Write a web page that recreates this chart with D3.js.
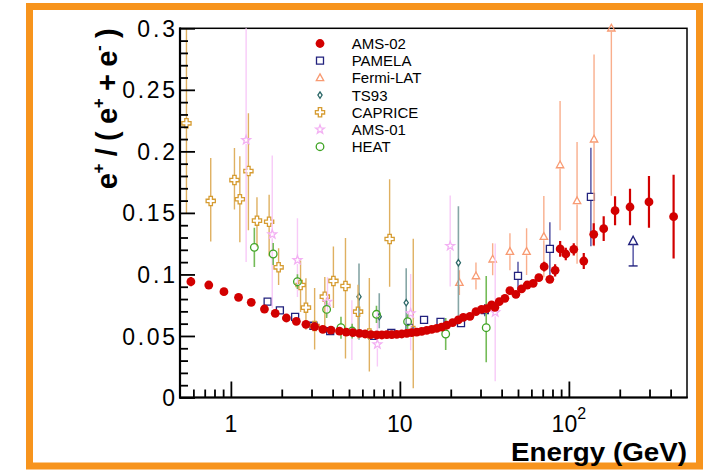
<!DOCTYPE html>
<html><head><meta charset="utf-8">
<script src="https://cdn.jsdelivr.net/npm/d3@7"></script>
<style>html,body{margin:0;padding:0;background:#fff;} svg{display:block;font-family:"Liberation Sans",Arial,Helvetica,sans-serif;}</style>
</head><body><svg id="c" width="705" height="470"></svg>
<script>
// ---------------- data ----------------
const xTickMajor = [1, 10, 100];
const xTickMinor = [0.6,0.7,0.8,0.9,2,3,4,5,6,7,8,9,20,30,40,50,60,70,80,90,200,300,400];
const yTickMajor = [0, 0.05, 0.1, 0.15, 0.2, 0.25, 0.3];
const yTickLabels = ["0", "0.05", "0.1", "0.15", "0.2", "0.25", "0.3"];

const ams02E = [0.58,0.74,0.91,1.11,1.32,1.58,1.83,2.13,2.44,2.78,3.13,3.50,3.91,4.39,4.81,5.27,5.77,6.23,6.73,7.30,7.82,8.36,8.95,9.58,10.26,10.98,11.75,12.58,13.46,14.41,15.43,16.51,17.67,18.92,20.52,22.17,23.73,25.98,28.19,30.44,32.60,34.88,36.50,38.71,41.82,44.78,48.58,52.47,56.67,61.48,66.41,71.41,77.13,82.92,88.80,95.87,106.9,122.5,140.3,160.7,187.6,230.0,297.8,416.6];
const ams02V = [0.0941,0.0914,0.0860,0.0814,0.0773,0.0719,0.0684,0.0646,0.0619,0.0595,0.0576,0.0554,0.0548,0.0540,0.0532,0.0527,0.0521,0.0516,0.0511,0.0508,0.0508,0.0511,0.0511,0.0513,0.0516,0.0521,0.0527,0.0532,0.0538,0.0545,0.0553,0.0561,0.0572,0.0587,0.0608,0.0630,0.0651,0.0660,0.0697,0.0716,0.0722,0.0752,0.0733,0.0779,0.0806,0.0868,0.0838,0.0882,0.0914,0.0928,0.0974,0.1063,0.0960,0.1033,0.1207,0.1166,0.1204,0.1109,0.1326,0.1372,0.1518,0.1548,0.1589,0.1469];
const ams02Err = [0.0038,0.002,0.0015,0.001,0.001,0.001,0.001,0.001,0.001,0.001,0.001,0.001,0.001,0.001,0.001,0.001,0.001,0.001,0.001,0.001,0.001,0.001,0.001,0.001,0.001,0.001,0.001,0.001,0.001,0.001,0.001,0.001,0.001,0.001,0.001,0.001,0.0015,0.0015,0.0015,0.0015,0.002,0.002,0.002,0.002,0.002,0.002,0.002,0.002,0.002,0.0025,0.003,0.004,0.003,0.005,0.0064,0.005,0.005,0.0065,0.009,0.010,0.0118,0.0148,0.021,0.034];

const pamelaE = [1.65,1.95,2.40,3.08,3.87,6.9,8.9,11.4,13.9,17.4,23.0,31.8,50.0,77.2,135.0];
const pamelaV = [0.0779,0.0708,0.0655,0.0583,0.0540,0.0500,0.0524,0.0565,0.0630,0.0615,0.0605,0.0710,0.0988,0.1208,0.1630];
const pamelaErr = [0.002,0.002,0.002,0.002,0.002,0.002,0.002,0.002,0.003,0.003,0.003,0.005,0.0115,0.0217,0.040];
const pamelaLimitE = [240];
const pamelaLimitV = [0.1268];
const pamelaLimitLow = [0.1069];

const fermiE = [22.5,28.2,35.4,44.8,56.2,71.1,88.7,111.8,140.9,178.4];
const fermiV = [0.0933,0.0987,0.1123,0.1185,0.1185,0.1307,0.1889,0.1597,0.2098,0.3000];
const fermiLo = [0.010,0.011,0.013,0.015,0.019,0.033,0.053,0.051,0.087,0.136];
const fermiHi = [0.010,0.011,0.013,0.015,0.019,0.033,0.052,0.048,0.069,0.05];

const ts93E = [5.73,7.55,10.9,22.2];
const ts93V = [0.0819,0.0657,0.0770,0.1095];
const ts93Lo = [0.035,0.0095,0.025,0.044];
const ts93Hi = [0.027,0.019,0.028,0.046];

const capriceE = [0.546,0.760,1.050,1.130,1.270,1.427,1.684,1.916,2.584,2.781,3.13,3.596,4.043,4.766,5.656,6.597,8.696,12.0];
const capriceV = [0.2228,0.1597,0.1767,0.1611,0.1840,0.1437,0.1428,0.1058,0.0914,0.0730,0.058,0.0819,0.0947,0.0906,0.0697,0.0521,0.1288,0.054];
const capriceLo = [0.073,0.033,0.024,0.035,0.048,0.021,0.028,0.0144,0.022,0.018,0.019,0.028,0.022,0.059,0.022,0.031,0.0388,0.0465];
const capriceHi = [0.10,0.035,0.026,0.035,0.047,0.019,0.022,0.0154,0.020,0.024,0.031,0.016,0.028,0.039,0.022,0.045,0.0485,0.075];

const ams01E = [1.231,1.757,2.477,3.73,5.2,7.36,11.58,19.85,36.65];
const ams01V = [0.2092,0.1326,0.1117,0.0778,0.054,0.0432,0.0684,0.1231,0.0692];
const ams01Lo = [0.099,0.06,0.030,0.012,0.0235,0.018,0.03,0.033,0.056];
const ams01Hi = [0.10,0.064,0.034,0.020,0.025,0.0265,0.032,0.041,0.056];

const heatE = [1.377,1.780,2.477,3.686,4.482,5.22,7.27,11.11,18.67,32.43];
const heatV = [0.1220,0.1166,0.0941,0.0716,0.0567,0.0540,0.0676,0.0616,0.0516,0.0567];
const heatLo = [0.016,0.009,0.006,0.007,0.009,0.006,0.007,0.006,0.013,0.028];
const heatHi = [0.016,0.009,0.006,0.007,0.009,0.006,0.007,0.006,0.013,0.042];

const legendNames = ["AMS-02","PAMELA","Fermi-LAT","TS93","CAPRICE","AMS-01","HEAT"];

// ---------------- layout ----------------
const svg = d3.select("#c");
const L = 180, R = 687, T = 28.3, B = 397.5;
const x = d3.scaleLog().domain([0.5, 500]).range([L, R]);
const y = d3.scaleLinear().domain([0, 0.3]).range([B, T]);

// orange border
svg.append("rect").attr("x",29.5).attr("y",6.5).attr("width",670).attr("height",459.5)
  .attr("fill","#fff").attr("stroke","#f7941d").attr("stroke-width",7);

svg.append("defs").append("clipPath").attr("id","pc").append("rect")
  .attr("x",L).attr("y",T).attr("width",R-L).attr("height",B-T);

// frame
svg.append("rect").attr("x",L).attr("y",T).attr("width",R-L).attr("height",B-T)
  .attr("fill","none").attr("stroke","#000").attr("stroke-width",1.5);

const mk = {
  dot:{half:0}, square:{half:3.5}, triangle:{half:3.5}, diamond:{half:3}, cross:{half:4.5}, star:{half:4}, circle:{half:3.8}
};
function drawMarker(g, type, cx, cy, color) {
  if (type === "dot") {
    g.append("circle").attr("cx",cx).attr("cy",cy).attr("r",4.4).attr("fill",color);
    return;
  }
  let d = "";
  if (type === "square") d = `M${cx-3.5},${cy-3.5}h7v7h-7Z`;
  else if (type === "triangle") d = `M${cx},${cy-4}L${cx+3.7},${cy+2.7}L${cx-3.7},${cy+2.7}Z`;
  else if (type === "diamond") d = `M${cx},${cy-3.2}L${cx+2.1},${cy}L${cx},${cy+3.2}L${cx-2.1},${cy}Z`;
  else if (type === "cross") { const a=1.7,b=4.6; d = `M${cx-a},${cy-b}H${cx+a}V${cy-a}H${cx+b}V${cy+a}H${cx+a}V${cy+b}H${cx-a}V${cy+a}H${cx-b}V${cy-a}H${cx-a}Z`; }
  else if (type === "star") {
    const pts = [];
    for (let i=0;i<10;i++){ const r = i%2===0?4.6:1.9; const ang = -Math.PI/2 + i*Math.PI/5; pts.push([cx+r*Math.cos(ang), cy+r*Math.sin(ang)]); }
    d = "M" + pts.map(p=>p[0].toFixed(2)+","+p[1].toFixed(2)).join("L") + "Z";
  }
  else if (type === "circle") {
    g.append("circle").attr("cx",cx).attr("cy",cy).attr("r",3.8).attr("fill","none").attr("stroke",color).attr("stroke-width",1.3);
    return;
  }
  g.append("path").attr("d",d).attr("fill","none").attr("stroke",color).attr("stroke-width",1.3).attr("stroke-linejoin","miter");
}

const series = [
  {name:"PAMELA", E:pamelaE, v:pamelaV, lo:pamelaErr, hi:pamelaErr, type:"square", color:"#22227e", bar:"#4c4ca0", bw:1.4},
  {name:"Fermi-LAT", E:fermiE, v:fermiV, lo:fermiLo, hi:fermiHi, type:"triangle", color:"#f89a72", bar:"#f9ae8c", bw:1.4},
  {name:"TS93", E:ts93E, v:ts93V, lo:ts93Lo, hi:ts93Hi, type:"diamond", color:"#2c6868", bar:"#86a6a6", bw:1.6},
  {name:"CAPRICE", E:capriceE, v:capriceV, lo:capriceLo, hi:capriceHi, type:"cross", color:"#d69c32", bar:"#dfb061", bw:1.4},
  {name:"AMS-01", E:ams01E, v:ams01V, lo:ams01Lo, hi:ams01Hi, type:"star", color:"#f3b0f3", bar:"#f8caf8", bw:1.4},
  {name:"HEAT", E:heatE, v:heatV, lo:heatLo, hi:heatHi, type:"circle", color:"#3fa424", bar:"#74bb58", bw:1.6},
  {name:"AMS-02", E:ams02E, v:ams02V, lo:ams02Err, hi:ams02Err, type:"dot", color:"#d20000", bar:"#d20000", bw:2.2}
];

const dataG = svg.append("g");
series.forEach(s => {
  const bars = dataG.append("g").attr("clip-path","url(#pc)");
  const marks = dataG.append("g");
  const h = mk[s.type].half;
  s.E.forEach((e,i) => {
    const cx = x(e), cy = y(s.v[i]);
    const yTop = y(s.v[i] + s.hi[i]), yBot = y(s.v[i] - s.lo[i]);
    if (cy - h > yTop) bars.append("line").attr("x1",cx).attr("x2",cx).attr("y1",yTop).attr("y2",cy-h).attr("stroke",s.bar).attr("stroke-width",s.bw);
    if (cy + h < yBot) bars.append("line").attr("x1",cx).attr("x2",cx).attr("y1",cy+h).attr("y2",yBot).attr("stroke",s.bar).attr("stroke-width",s.bw);
  });
  s.E.forEach((e,i) => drawMarker(marks, s.type, x(e), y(s.v[i]), s.color));
  if (s.name === "PAMELA") {
    pamelaLimitE.forEach((e,i) => {
      const cx = x(e), cy = y(pamelaLimitV[i]), yb = y(pamelaLimitLow[i]);
      marks.append("path").attr("d",`M${cx},${cy-5.2}L${cx+4.4},${cy+3}L${cx-4.4},${cy+3}Z`)
        .attr("fill","none").attr("stroke",s.color).attr("stroke-width",1.4);
      marks.append("line").attr("x1",cx).attr("x2",cx).attr("y1",cy+3).attr("y2",yb).attr("stroke",s.bar).attr("stroke-width",1.4);
      marks.append("line").attr("x1",cx-4.5).attr("x2",cx+4.5).attr("y1",yb).attr("y2",yb).attr("stroke",s.color).attr("stroke-width",1.4);
    });
  }
});

// ---------------- axes ----------------
const yAxisG = svg.append("g").attr("transform",`translate(${L},0)`)
  .call(d3.axisLeft(y).tickValues(yTickMajor).tickSize(-15).tickPadding(5)
    .tickFormat((d,i) => yTickLabels[i]));
const yMinor = d3.range(0, 0.3001, 0.01).filter(v => Math.abs(v/0.05 - Math.round(v/0.05)) > 1e-6);
svg.append("g").attr("transform",`translate(${L},0)`)
  .call(d3.axisLeft(y).tickValues(yMinor).tickSize(-8).tickFormat(""));
const xAxisG = svg.append("g").attr("transform",`translate(0,${B})`)
  .call(d3.axisBottom(x).tickValues(xTickMajor).tickSize(-16).tickFormat(""));
svg.append("g").attr("transform",`translate(0,${B})`)
  .call(d3.axisBottom(x).tickValues(xTickMinor).tickSize(-8).tickFormat(""));

svg.selectAll(".domain").remove();
svg.selectAll(".tick line").attr("stroke","#000").attr("stroke-width",1.8);

yAxisG.selectAll("text").attr("font-size",23).attr("fill","#000").attr("font-family","Liberation Sans, Arial, sans-serif")
  .attr("dy","0.35em")
  .each(function(){ const t = this.textContent; if (t.indexOf(".")>=0) { const w = this.getComputedTextLength(); d3.select(this).attr("textLength", w*1.18).attr("lengthAdjust","spacing"); } });

// axis lines (left, bottom thick)
svg.append("line").attr("x1",L).attr("x2",L).attr("y1",T-0.7).attr("y2",B+1).attr("stroke","#000").attr("stroke-width",2.2);
svg.append("line").attr("x1",L-1).attr("x2",R+0.7).attr("y1",B).attr("y2",B).attr("stroke","#000").attr("stroke-width",2.2);

// x tick labels
const xl = svg.append("g").attr("font-size",23).attr("fill","#000");
xTickMajor.forEach(v => {
  const t = xl.append("text").attr("x",x(v)).attr("y",432).attr("text-anchor","middle");
  if (v === 100) {
    t.append("tspan").text("10");
    t.append("tspan").attr("font-size",16).attr("dy",-13).text("2");
  } else t.text(String(v));
});

// axis titles
svg.append("text").attr("x",687).attr("y",460.5).attr("text-anchor","end")
  .attr("font-size",26).attr("font-weight","bold")
  .attr("textLength",176).attr("lengthAdjust","spacingAndGlyphs").text("Energy (GeV)");

const yt = svg.append("text").attr("transform",`translate(117,${T}) rotate(-90)`)
  .attr("text-anchor","end").attr("font-size",29).attr("font-weight","bold");
yt.append("tspan").text("e");
yt.append("tspan").attr("font-size",17).attr("dy",-13).text("+");
yt.append("tspan").attr("dy",13).text("\u00a0/\u00a0(\u00a0e");
yt.append("tspan").attr("font-size",17).attr("dy",-13).text("+");
yt.append("tspan").attr("dy",13).text("\u00a0+\u00a0e");
yt.append("tspan").attr("font-size",17).attr("dy",-13).text("-");
yt.append("tspan").attr("dy",13).text("\u00a0)");
yt.attr("textLength",161).attr("lengthAdjust","spacing");

// ---------------- legend ----------------
const legTypes = {"AMS-02":"dot","PAMELA":"square","Fermi-LAT":"triangle","TS93":"diamond","CAPRICE":"cross","AMS-01":"star","HEAT":"circle"};
const lg = svg.append("g");
legendNames.forEach((n,i) => {
  const s = series.find(d => d.name === n);
  const cy = 43.5 + i*17.2;
  drawMarker(lg, legTypes[n], 320, cy, s.color);
  lg.append("text").attr("x",351.7).attr("y",cy+5.5).attr("font-size",15).attr("fill","#000").text(n);
});
</script></body></html>
